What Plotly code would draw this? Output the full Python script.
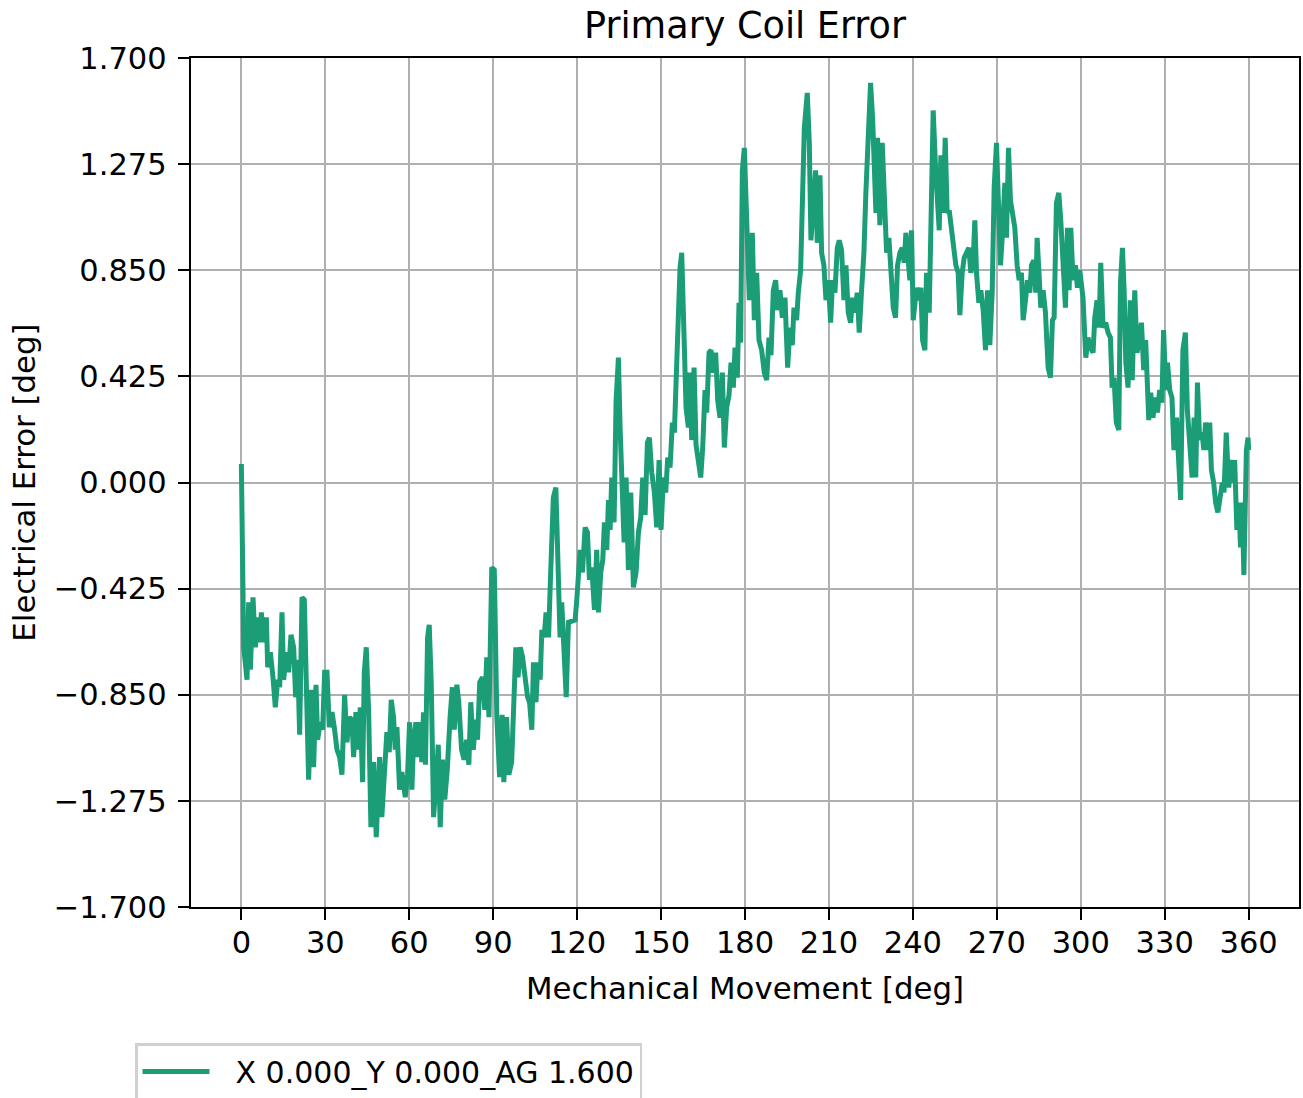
import plotly.graph_objects as go

# ---- data ----
mech_deg = [
    0.0, 0.23, 0.83, 2.02, 2.62, 3.21, 4.16, 5.0, 5.83, 6.54, 7.14, 7.98, 8.93, 9.4, 10.35, 11.3,
    12.14, 12.98, 13.69, 14.52, 15.12, 16.07, 16.9, 17.73, 18.69, 19.4, 20.12, 20.83, 21.67, 22.5,
    23.21, 24.04, 25.0, 25.83, 26.67, 27.26, 28.21, 29.05, 29.76, 30.6, 31.43, 32.38, 33.21, 34.17,
    35.12, 35.95, 36.9, 37.74, 38.57, 39.52, 40.12, 40.95, 41.9, 42.5, 43.33, 43.93, 44.64, 45.5,
    46.3, 47.26, 48.21,
    49.4, 50.2, 51.07, 52.0, 52.85, 53.57, 54.4, 55.0, 55.6, 56.55, 57.38, 58.57, 59.4, 60.12,
    60.95, 61.55, 62.38, 63.1, 63.93, 64.5, 65.1, 65.8, 66.55, 67.14, 67.86, 68.7, 69.64, 70.36,
    71.07, 71.9, 72.7, 73.6, 74.6, 75.4, 76.1, 77.0, 77.7, 78.7, 79.6, 80.5, 81.3, 82.0, 82.9,
    83.7, 84.4, 85.2, 86.2, 87.0, 87.7, 88.5, 89.5, 90.4, 91.3, 92.3, 93.2, 93.8, 94.8, 95.6,
    96.6, 97.3, 98.1, 98.9, 99.7, 100.5, 101.4, 102.3, 103.0, 103.8, 104.4, 105.3, 106.0, 106.8,
    107.4, 108.2, 108.9, 109.8, 110.4, 111.0, 111.5, 112.4, 113.1, 113.9, 114.5, 115.4, 116.1,
    116.9,
    119.29, 119.88, 121.07, 121.9, 122.86, 123.69, 124.4, 125.24, 126.19, 127.0, 127.62, 128.45,
    129.17, 129.76, 130.6, 131.2, 131.79, 132.38, 133.21, 133.93, 134.76, 135.36, 135.95, 136.79,
    137.5, 138.33, 139.17, 140.12, 141.07, 141.9, 142.74, 143.45, 144.29, 145.12, 145.83, 146.67,
    147.62, 148.45, 149.29, 150.0, 150.83, 151.67, 152.38, 153.21, 154.05, 154.76, 155.36, 155.95,
    156.79, 157.38, 158.21, 158.93, 159.76, 160.36, 160.95, 161.79, 162.5, 163.33, 164.17, 164.88,
    165.71, 166.31, 167.14, 167.86, 168.69, 169.52, 170.24, 171.07, 171.9, 172.62, 173.45, 174.29,
    175.0, 175.83, 176.43, 177.26, 177.86, 178.45,
    179.05, 179.76, 180.6, 181.55, 182.62, 183.33, 184.17, 185.0, 185.95, 186.9, 187.74, 188.57,
    189.29, 190.12, 190.95, 191.67, 192.5, 193.33, 194.29, 195.24, 196.07, 196.9, 197.5, 198.45,
    199.05, 199.88, 200.6, 201.2, 202.26, 202.98, 203.57, 204.4, 205.24, 205.83, 206.79, 207.38,
    208.2, 208.93, 209.76, 210.6, 211.3, 212.14, 212.98, 213.69, 214.52, 215.36, 216.07, 216.9,
    217.74, 218.45, 219.3, 220.12, 220.83, 221.67, 222.5, 223.2, 224.05, 224.88, 225.6, 226.19,
    226.79, 227.38, 228.2, 229.05, 229.76, 230.6, 231.43, 232.14, 232.98, 233.81, 234.52, 235.36,
    236.2, 236.9, 237.5, 238.33, 238.93, 239.52, 240.12,
    241.3, 242.15, 242.86, 243.46, 244.29, 244.88, 245.84, 246.43, 247.26, 248.1, 248.81, 249.41,
    250.0, 250.84, 251.55, 252.26, 252.98, 253.81, 254.65, 255.36, 256.19, 256.79, 257.62, 258.34,
    259.17, 260.0, 260.72, 261.55, 262.15, 262.74, 263.57, 264.29, 265.12, 265.96, 266.67, 267.5,
    268.34, 269.05, 269.88, 270.6, 271.31, 272.03, 272.86, 273.46, 274.17, 274.88, 275.6, 276.43,
    277.26, 277.98, 278.81, 279.41, 280.24, 280.96, 281.79, 282.38, 283.22, 283.93, 284.41, 285.12,
    285.72, 286.55, 287.38, 288.34, 289.17, 289.88, 290.48, 291.31, 292.15, 292.86, 293.69, 294.53,
    295.24, 295.84, 296.43, 297.26, 298.1, 298.81, 299.65,
    300.8, 301.8, 302.6, 303.45, 304.4, 305.0, 305.83, 306.55, 307.14, 307.98, 308.9, 309.76,
    310.6, 311.2, 311.9, 312.7, 313.6, 314.2, 314.9, 315.5, 316.1, 316.9, 317.7, 318.4, 319.3,
    320.1, 320.8, 321.7, 322.5, 323.2, 323.8, 324.3, 325.0, 325.8, 326.7, 327.4, 328.2, 329.0,
    329.6, 330.4, 331.0, 331.8, 332.6, 333.3, 334.2, 335.0, 335.7, 336.5, 337.4, 338.1, 338.9,
    339.8, 340.5, 341.1, 341.7, 342.5, 343.3, 344.0, 344.6, 345.5, 346.1, 346.7, 347.5, 348.2,
    349.0, 349.9, 350.6, 351.2, 352.0, 352.9, 353.6, 354.2, 355.0, 355.8, 356.5, 357.1, 357.7,
    358.3, 359.2, 359.8, 360.0,
]

elec_err = [
    0.074, -0.32, -0.66, -0.79, -0.48, -0.75, -0.46, -0.66, -0.54, -0.64, -0.52, -0.64, -0.54, -0.74,
    -0.68, -0.78, -0.90, -0.79, -0.82, -0.52, -0.79, -0.68, -0.76, -0.61, -0.66, -0.86, -0.71, -1.01,
    -0.46, -0.47, -0.80, -1.19, -0.83, -1.14, -0.81, -1.03, -0.96, -0.99, -0.76, -0.76, -0.98, -0.92,
    -0.98, -1.07, -1.10, -1.17, -0.85, -1.04, -0.94, -0.95, -1.10, -0.92, -1.07, -0.90, -1.20, -0.76,
    -0.66, -0.92, -1.38, -1.12, -1.42,
    -1.10, -1.34, -1.20, -1.00, -1.08, -0.87, -0.94, -1.07, -0.98, -1.23, -1.16, -1.26, -1.17, -0.96,
    -1.23, -1.03, -0.96, -1.10, -0.96, -1.12, -0.92, -1.13, -0.62, -0.57, -0.80, -1.34, -1.19, -1.05,
    -1.38, -1.11, -1.27, -1.15, -0.94, -0.82, -0.99, -0.81, -0.88, -1.07, -1.11, -1.03, -1.13, -0.88,
    -1.07, -0.95, -1.03, -0.80, -0.78, -0.91, -0.70, -0.94, -0.34, -0.35, -0.94, -1.18, -0.93, -1.20,
    -0.94, -1.17, -1.12, -0.86, -0.66, -0.78, -0.66, -0.70, -0.78, -0.86, -0.88, -0.99, -0.72, -0.88,
    -0.72, -0.79, -0.59, -0.62, -0.52, -0.62, -0.41, -0.27, -0.06, -0.02, -0.27, -0.62, -0.48, -0.70,
    -0.86, -0.56,
    -0.55, -0.47, -0.27, -0.36, -0.18, -0.20, -0.39, -0.34, -0.51, -0.27, -0.52, -0.36, -0.31, -0.16,
    -0.27, -0.07, -0.19, 0.02, -0.16, 0.33, 0.50, 0.22, 0.01, -0.24, 0.02, -0.35, -0.04, -0.42,
    -0.36, -0.20, -0.14, 0.02, -0.13, 0.16, 0.18, 0.04, -0.04, -0.18, 0.09, -0.19, 0.02, -0.04,
    0.10, 0.06, 0.24, 0.20, 0.40, 0.60, 0.86, 0.92, 0.62, 0.30, 0.22, 0.44, 0.17, 0.46, 0.15, 0.08,
    0.02, 0.14, 0.37, 0.28, 0.52, 0.53, 0.44, 0.52, 0.33, 0.26, 0.44, 0.14, 0.30, 0.35, 0.48, 0.38,
    0.54, 0.42, 0.72, 0.56,
    1.25, 1.34, 1.09, 0.73, 1.00, 0.65, 0.84, 0.57, 0.53, 0.44, 0.41, 0.58, 0.51, 0.77, 0.81, 0.69,
    0.77, 0.66, 0.74, 0.46, 0.62, 0.55, 0.70, 0.65, 0.76, 0.85, 1.16, 1.42, 1.56, 1.36, 0.97, 1.16,
    1.25, 0.96, 1.23, 0.92, 0.87, 0.73, 0.81, 0.64, 0.81, 0.76, 0.94, 0.97, 0.93, 0.73, 0.87, 0.68,
    0.64, 0.74, 0.68, 0.76, 0.60, 0.77, 0.92, 1.16, 1.42, 1.60, 1.46, 1.22, 1.08, 1.38, 1.03, 1.36,
    1.09, 0.92, 0.98, 0.87, 0.70, 0.66, 0.87, 0.92, 0.94, 0.88, 1.00, 0.89, 0.81, 1.01, 0.65,
    0.78, 0.73, 0.78, 0.57, 0.53, 0.84, 0.68, 1.16, 1.49, 1.26, 1.12, 1.01, 1.31, 1.08, 1.38, 1.08,
    1.09, 1.01, 0.95, 0.87, 0.84, 0.67, 0.84, 0.90, 0.92, 0.94, 0.84, 0.89, 1.05, 0.84, 0.72, 0.77,
    0.69, 0.53, 0.77, 0.55, 0.76, 1.18, 1.36, 1.11, 0.87, 1.00, 1.20, 0.98, 1.34, 1.13, 1.06, 1.02,
    0.87, 0.81, 0.84, 0.65, 0.73, 0.81, 0.76, 0.87, 0.89, 0.76, 0.98, 0.81, 0.70, 0.77, 0.68, 0.46,
    0.42, 0.65, 0.66, 1.12, 1.16, 1.05, 0.84, 0.70, 1.02, 0.77, 1.02, 0.81, 0.87, 0.78, 0.85,
    0.74, 0.50, 0.58, 0.54, 0.52, 0.66, 0.73, 0.62, 0.88, 0.62, 0.64, 0.60, 0.58, 0.38, 0.42, 0.24,
    0.21, 0.80, 0.94, 0.77, 0.48, 0.38, 0.73, 0.41, 0.77, 0.52, 0.56, 0.64, 0.45, 0.57, 0.43, 0.25,
    0.36, 0.26, 0.34, 0.28, 0.37, 0.32, 0.61, 0.37, 0.48, 0.37, 0.34, 0.13, 0.26, 0.05, -0.07, 0.53,
    0.60, 0.29, 0.13, 0.02, 0.26, 0.02, 0.40, 0.17, 0.20, 0.13, 0.24, 0.13, 0.24, 0.05, 0.00, -0.08,
    -0.12, -0.04, 0.00, -0.04, 0.20, -0.02, 0.09, 0.00, 0.09, -0.19, -0.08, -0.26, -0.08, -0.37,
    0.13, 0.18, 0.13,
]

x_ticks = [0, 30, 60, 90, 120, 150, 180, 210, 240, 270, 300, 330, 360]
y_ticks = [-1.7, -1.275, -0.85, -0.425, 0.0, 0.425, 0.85, 1.275, 1.7]
y_tick_text = ["\u22121.700", "\u22121.275", "\u22120.850", "\u22120.425", "0.000",
               "0.425", "0.850", "1.275", "1.700"]
series_name = "X 0.000_Y 0.000_AG 1.600"

FONT = "DejaVu Sans"
W, H = 1303, 1098
L, R, T, B = 191, 4, 58, 191
plot_w = W - L - R
plot_h = H - T - B

fig = go.Figure()
fig.add_trace(go.Scatter(
    x=mech_deg, y=elec_err, mode="lines", name="\u2002\u2009" + series_name,
    line=dict(color="#1b9e77", width=5),
))

axis_common = dict(
    showline=True, linecolor="black", linewidth=2.4, mirror=True,
    ticks="outside", ticklen=11, tickwidth=2.4, tickcolor="black",
    showgrid=True, gridcolor="#b0b0b0", gridwidth=2.4,
    zeroline=False, tickfont=dict(family=FONT, size=30.5, color="black"),
)

fig.update_xaxes(
    range=[-18, 378], tickmode="array", tickvals=x_ticks,
    ticktext=[str(v) for v in x_ticks], ticklabelstandoff=-4,
    title=dict(text="Mechanical Movement [deg]", standoff=19,
               font=dict(family=FONT, size=30.8, color="black")),
    **axis_common,
)
fig.update_yaxes(
    range=[-1.7, 1.7], tickmode="array", tickvals=y_ticks, ticktext=y_tick_text,
    ticklabelstandoff=5,
    title=dict(text="Electrical Error [deg]", standoff=9,
               font=dict(family=FONT, size=30.8, color="black")),
    **axis_common,
)

fig.update_layout(
    width=W, height=H,
    margin=dict(l=L, r=R, t=T, b=B, autoexpand=False),
    plot_bgcolor="white", paper_bgcolor="white",
    font=dict(family=FONT, size=30.5, color="black"),
    title=dict(text="Primary Coil Error", x=0.5, xref="paper", xanchor="center",
               y=1 - 25 / H, yref="container", yanchor="middle",
               font=dict(family=FONT, size=36.6, color="black")),
    showlegend=True,
    legend=dict(x=(135 - L) / plot_w, y=-(1043 - (T + plot_h)) / plot_h,
                xanchor="left", yanchor="top", bgcolor="white",
                bordercolor="#d0d0d0", borderwidth=2.5, itemwidth=67,
                font=dict(family=FONT, size=30, color="black")),
)

# remove the browser's default 8px body margin so the figure fills the window exactly
fig.write_html("out.html", config={"displayModeBar": False},
               post_script="document.body.style.margin='0px';document.body.style.overflow='hidden';")
